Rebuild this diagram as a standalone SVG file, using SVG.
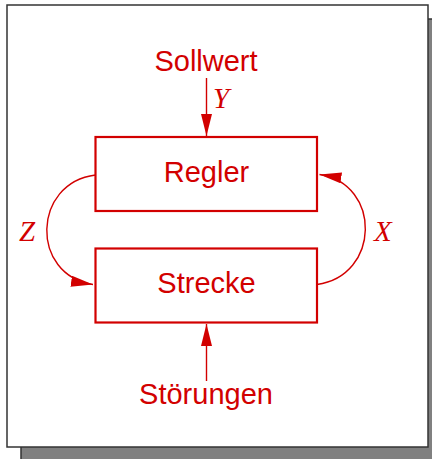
<svg xmlns="http://www.w3.org/2000/svg" width="432" height="459" viewBox="0 0 432 459">
<style>
.lbl{font-family:"Liberation Sans",Arial,sans-serif;font-size:29px;fill:#d20000;text-anchor:middle}
.var{font-family:"Liberation Serif","Times New Roman",serif;font-size:29px;font-style:italic;fill:#d20000}
.box{fill:none;stroke:#d20000;stroke-width:2.2}
.con{fill:none;stroke:#d20000;stroke-width:1.4}
</style>
<defs>
<marker id="ah" markerUnits="userSpaceOnUse" markerWidth="22" markerHeight="12" refX="22" refY="5.5" orient="auto">
<path d="M0,0 L22,5.5 L0,11 z" fill="#d20000"/>
</marker>
</defs>
<g id="frame">
<rect x="21" y="19" width="415" height="445" fill="#808080" stroke="#333" stroke-width="1.5"/>
<rect x="7" y="5" width="421" height="442" fill="#fff" stroke="#333" stroke-width="1.5"/>
</g>
<g id="connectors">
<line class="con" x1="206.5" y1="78" x2="206.5" y2="136" marker-end="url(#ah)"/>
<line class="con" x1="206.5" y1="381" x2="206.5" y2="324" marker-end="url(#ah)"/>
<path class="con" d="M95.5,175 C32,183 30,275 93,284.5" marker-end="url(#ah)"/>
<path class="con" d="M317,284.5 C380,276 382,184 319.5,174.5" marker-end="url(#ah)"/>
</g>
<g id="sollwert"><text class="lbl" x="206" y="71">Sollwert</text></g>
<g id="regler">
<rect class="box" x="95.5" y="137" width="221.5" height="74"/>
<text class="lbl" x="206.5" y="182">Regler</text>
</g>
<g id="strecke">
<rect class="box" x="95.5" y="248.5" width="221.5" height="74"/>
<text class="lbl" x="206.5" y="293">Strecke</text>
</g>
<g id="stoerungen"><text class="lbl" x="206" y="404">Störungen</text></g>
<g id="labels">
<text class="var" x="213" y="108">Y</text>
<text class="var" x="19" y="241">Z</text>
<text class="var" x="374" y="241">X</text>
</g>
</svg>
